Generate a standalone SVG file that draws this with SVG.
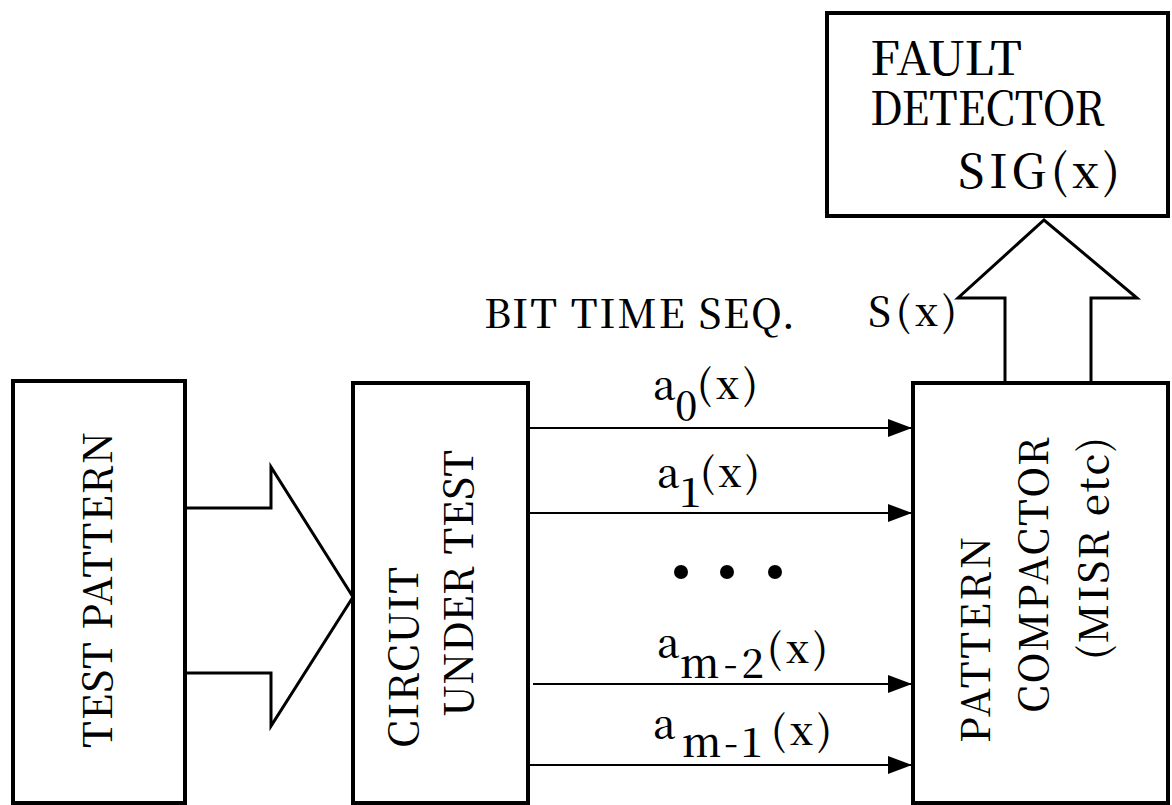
<svg xmlns="http://www.w3.org/2000/svg" width="1172" height="805" viewBox="0 0 1172 805">
  <defs>
    <marker id="tri" markerUnits="userSpaceOnUse" markerWidth="26" markerHeight="18" refX="24" refY="9" orient="auto">
      <path d="M0,0 L24,9 L0,18 Z" fill="#000"/>
    </marker>
  </defs>
  <style>
    .box { fill: #fff; stroke: #000; stroke-width: 4; }
    .big { fill: #fff; stroke: #000; stroke-width: 3; stroke-linejoin: miter; }
    .sig { stroke: #000; stroke-width: 2.2; fill: none; marker-end: url(#tri); }
    .lbl { fill: #000; font-family: 'Noto Serif CJK JP', 'Liberation Serif', serif; font-weight: 500; }
    .t46 { font-size: 46px; }
    .t40 { font-size: 40px; }
  </style>
  <rect width="1172" height="805" fill="#fff"/>

  <!-- block arrows and bit lines -->
  <g id="connectors">
    <polygon class="big" points="185,508 271,508 271,467 353,597 271,726 271,673 185,673"/>
    <polygon class="big" points="1005,383 1005,298 958,298 1044,220 1137,298 1091,298 1091,383"/>
    <line class="sig" x1="528" y1="428" x2="912" y2="428"/>
    <line class="sig" x1="528" y1="513" x2="912" y2="513"/>
    <line class="sig" x1="533" y1="684" x2="912" y2="684"/>
    <line class="sig" x1="528" y1="765" x2="912" y2="765"/>
  </g>

  <g id="test-pattern">
    <rect class="box" x="13" y="381" width="172" height="422"/>
    <text class="lbl t40" transform="translate(112,748) rotate(-90)" textLength="316">TEST PATTERN</text>
  </g>

  <g id="circuit-under-test">
    <rect class="box" x="353" y="383" width="175" height="420"/>
    <text class="lbl t40" transform="translate(418,748) rotate(-90)" textLength="181">CIRCUIT</text>
    <text class="lbl t40" transform="translate(473,717) rotate(-90)" textLength="267">UNDER TEST</text>
  </g>

  <g id="pattern-compactor">
    <rect class="box" x="913" y="383" width="255" height="420"/>
    <text class="lbl t40" transform="translate(990,743) rotate(-90)" textLength="206">PATTERN</text>
    <text class="lbl t40" transform="translate(1048,713) rotate(-90)" textLength="276">COMPACTOR</text>
    <text class="lbl t40" transform="translate(1108,660) rotate(-90)" textLength="223">(MISR etc)</text>
  </g>

  <g id="fault-detector">
    <rect class="box" x="827" y="13" width="341" height="203"/>
    <text class="lbl t46"><tspan x="870" y="75" textLength="152" lengthAdjust="spacingAndGlyphs">FAULT</tspan><tspan x="870" y="125" textLength="235" lengthAdjust="spacingAndGlyphs">DETECTOR</tspan></text>
    <text class="lbl t46" x="958" y="188" textLength="162">SIG(x)</text>
  </g>

  <g id="labels">
    <text class="lbl t40" x="484" y="328" textLength="311">BIT TIME SEQ.</text>
    <text class="lbl t40" x="868" y="326" textLength="89">S(x)</text>

    <text class="lbl t40" x="653" y="399">a</text>
    <text class="lbl t40" x="675" y="420">0</text>
    <text class="lbl t40" x="697" y="399" textLength="61">(x)</text>

    <text class="lbl t40" x="657" y="487">a</text>
    <text class="lbl t40" x="679" y="507">1</text>
    <text class="lbl t40" x="700" y="487" textLength="60">(x)</text>

    <circle cx="681" cy="572" r="7"/>
    <circle cx="727" cy="572" r="7"/>
    <circle cx="775" cy="572" r="7"/>

    <text class="lbl t40" x="657" y="657">a</text>
    <text class="lbl t40" x="680" y="678" textLength="84">m-2</text>
    <text class="lbl t40" x="767" y="663" textLength="61">(x)</text>

    <text class="lbl t40" x="653" y="738">a</text>
    <text class="lbl t40" x="682" y="757" textLength="81">m-1</text>
    <text class="lbl t40" x="771" y="745" textLength="61">(x)</text>
  </g>
</svg>
